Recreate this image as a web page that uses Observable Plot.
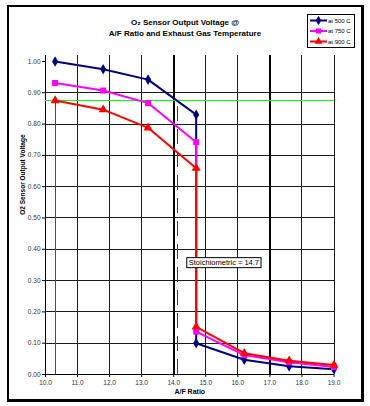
<!DOCTYPE html>
<html>
<head>
<meta charset="utf-8">
<script src="https://cdn.jsdelivr.net/npm/d3@7"></script>
<script src="https://cdn.jsdelivr.net/npm/@observablehq/plot@0.6"></script>
<style>
  html, body { margin: 0; padding: 0; background: #fff; }
  #wrap { position: relative; width: 370px; height: 406px; font-family: "Liberation Sans", Arial, sans-serif; overflow: hidden; background: #fff; }
  #chart { position: absolute; left: 0; top: 0; z-index: 1; }
  #frame { position: absolute; left: 7px; top: 5px; width: 352px; height: 392px; border: 2px solid #000; border-bottom-width: 3px; border-right-width: 3px; pointer-events: none; z-index: 2; }
  #title { position: absolute; left: 0; width: 370px; top: 18px; text-align: center; font-weight: bold; font-size: 8px; line-height: 10.5px; color: #000; z-index: 3; }
  #legend { position: absolute; left: 307px; top: 14px; width: 46px; height: 32px; border: 1.5px solid #000; background: #fff; z-index: 3; }
</style>
</head>
<body>
<div id="wrap">
  <div id="chart"></div>
  <div id="frame"></div>
  <div id="title">O₂ Sensor Output Voltage @<br>A/F Ratio and Exhaust Gas Temperature</div>
  <div id="legend"></div>
</div>
<script>
// A/F ratio positions of the measured points
const afRatio = [10.3, 11.8, 13.2, 14.7, 14.7, 16.2, 17.6, 19.0];
// Sensor voltage per exhaust gas temperature
const volt500 = [1.000, 0.975, 0.942, 0.830, 0.100, 0.047, 0.026, 0.017];
const volt750 = [0.931, 0.907, 0.867, 0.742, 0.137, 0.062, 0.039, 0.024];
const volt900 = [0.875, 0.846, 0.788, 0.659, 0.152, 0.068, 0.044, 0.030];
const seriesNames = ["at 500 C", "at 750 C", "at 900 C"];
const seriesColors = ["#000080", "#FF00FF", "#FF0000"];
const seriesSymbols = ["diamond", "square", "triangle"];
// Axis ticks
const xTicks = [10, 11, 12, 13, 14, 15, 16, 17, 18, 19];
const yTicks = [0, 0.1, 0.2, 0.3, 0.4, 0.5, 0.6, 0.7, 0.8, 0.9, 1.0];
const yGrid = [0.1, 0.2, 0.3, 0.4, 0.5, 0.6, 0.7, 0.8, 0.9];
const heavyX = [14, 17];
// Reference lines
const refVoltage = 0.875;     // green horizontal
const refLeanX = 10.3;        // red vertical
const dashedX = 14.13;        // dashed blue vertical
const dashedTop = 0.87;
const stoichLabel = "Stoichiometric = 14.7";
const stoichPos = {x: 14.47, y: 0.357};

const allSeries = [volt500, volt750, volt900];
const rows = allSeries.map((vals, s) => afRatio.map((x, i) => ({x, y: vals[i], s})));
const gridRows = yGrid.map(v => ({v}));

const crisp = {shapeRendering: "crispEdges"};
const marks = [
  Plot.ruleX(xTicks, {stroke: "#1a1a1a", strokeWidth: 1, ...crisp}),
  Plot.ruleY(gridRows, {y: "v", x1: 10, x2: 19, stroke: "#1a1a1a", strokeWidth: 1, ...crisp}),
  Plot.ruleX(heavyX, {stroke: "#000", strokeWidth: 2, ...crisp}),
  Plot.axisX({ticks: xTicks, tickFormat: d => d.toFixed(1), tickSize: 3, tickPadding: 3, fontSize: 6.5, fill: "#333", label: null}),
  Plot.axisY({ticks: yTicks, tickFormat: d => d.toFixed(2), tickSize: 3, tickPadding: 2, fontSize: 6.5, fill: "#333", label: null}),
  Plot.ruleY([0], {stroke: "#000", ...crisp}),
  Plot.ruleX([10], {stroke: "#000", ...crisp}),
  Plot.ruleY([refVoltage], {stroke: "#00FF00", strokeWidth: 1, ...crisp}),
  Plot.ruleX([refLeanX], {y1: 0, y2: refVoltage, stroke: "#FF0000", strokeWidth: 1, ...crisp}),
  Plot.ruleX([dashedX], {y1: 0, y2: dashedTop, stroke: "#3030a0", strokeWidth: 1, strokeDasharray: "15,8", ...crisp})
];
rows.forEach((data, s) => {
  marks.push(Plot.line(data, {x: "x", y: "y", stroke: seriesColors[s], strokeWidth: 2}));
  marks.push(Plot.dot(data, {x: "x", y: "y", fill: seriesColors[s], stroke: "none", symbol: () => seriesSymbols[s], r: s === 0 ? 3.2 : 3.4}));
});
marks.push(Plot.text([stoichLabel], {x: () => stoichPos.x, y: () => stoichPos.y, text: d => d, textAnchor: "start", fontSize: 7.5, fill: "#000"}));
marks.push(Plot.text(["A/F Ratio"], {frameAnchor: "bottom", dy: 19, text: d => d, fontWeight: "bold", fontSize: 7, fill: "#000"}));
marks.push(Plot.text(["O2 Sensor Output Voltage"], {frameAnchor: "left", dx: -23, rotate: -90, text: d => d, fontWeight: "bold", fontSize: 6.5, fill: "#000"}));

const chart = Plot.plot({
  width: 370,
  height: 406,
  marginLeft: 45,
  marginRight: 36.5,
  marginTop: 54.7,
  marginBottom: 32,
  style: {fontFamily: "'Liberation Sans', Arial, sans-serif", background: "transparent"},
  x: {domain: [10, 19]},
  y: {domain: [0, 1.02]},
  marks
});
document.getElementById("chart").appendChild(chart);

// white box with border behind the stoichiometric annotation
d3.select(chart).selectAll("text").filter(function() { return this.textContent === stoichLabel; }).each(function() {
  const bb = this.getBBox();
  d3.select(this.parentNode).insert("rect", () => this)
    .attr("transform", this.getAttribute("transform"))
    .attr("x", bb.x - 2).attr("y", bb.y - 0.5)
    .attr("width", bb.width + 4).attr("height", bb.height + 1)
    .attr("fill", "#fff").attr("stroke", "#000").attr("stroke-width", 1);
});

// legend
const lg = d3.select("#legend").append("svg").attr("width", 46).attr("height", 32);
seriesNames.forEach((name, s) => {
  const cy = 5.5 + s * 10.5;
  lg.append("line").attr("x1", 2).attr("x2", 19).attr("y1", cy).attr("y2", cy)
    .attr("stroke", seriesColors[s]).attr("stroke-width", 2);
  lg.append("path").attr("transform", `translate(10.5,${cy})`)
    .attr("d", d3.symbol(s === 0 ? d3.symbolDiamond : s === 1 ? d3.symbolSquare : d3.symbolTriangle, 26)())
    .attr("fill", seriesColors[s]);
  lg.append("text").attr("x", 20).attr("y", cy + 2.2).attr("font-size", 6).attr("fill", "#000")
    .attr("font-family", "'Liberation Sans', Arial, sans-serif").text(name);
});
</script>
</body>
</html>
